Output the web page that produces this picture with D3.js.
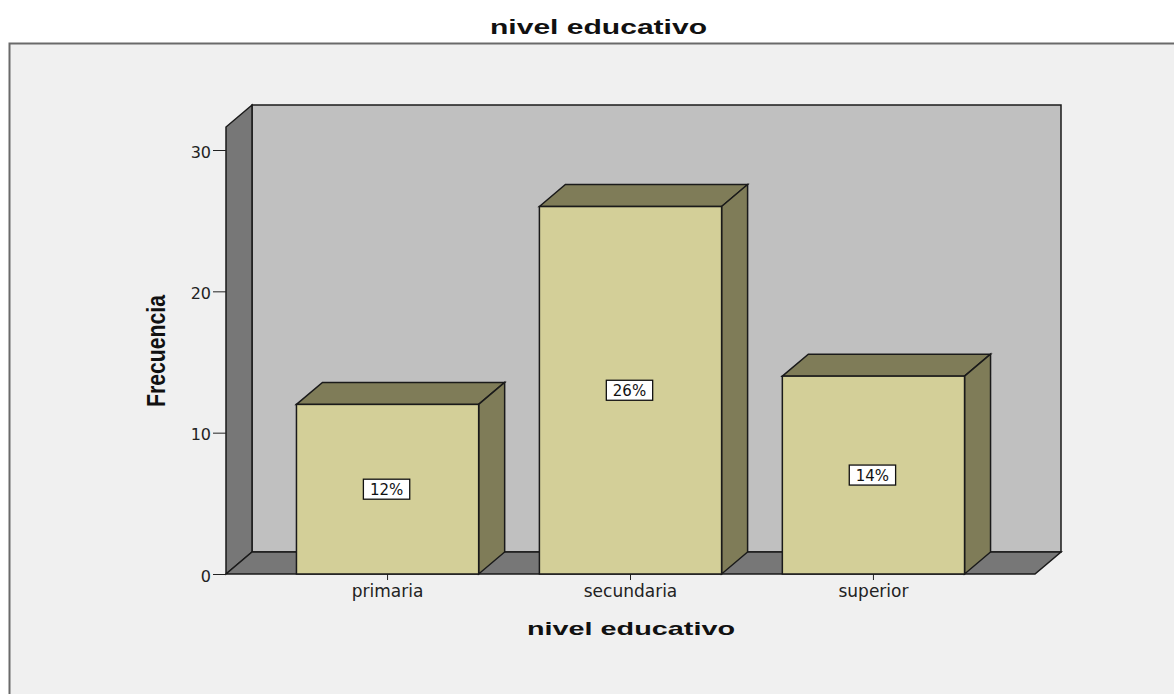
<!DOCTYPE html>
<html><head><meta charset="utf-8">
<script src="https://cdn.jsdelivr.net/npm/d3@7"></script>
<style>body{margin:0;background:#fff}svg{display:block}</style>
</head><body>
<svg id="c" width="1174" height="694"></svg>
<script>
const categories = ["primaria", "secundaria", "superior"];
const frequencies = [12, 26, 14];
const percentLabels = ["12%", "26%", "14%"];
const yTicks = [0, 10, 20, 30];
const chartTitle = "nivel educativo";
const xTitle = "nivel educativo";
const yTitle = "Frecuencia";

const svg = d3.select("#c");
const W = 1174, H = 694;
const dx = 26, dy = -22;
const x0 = 226, x1 = 1035, yBase = 574;
const FONT = "DejaVu Sans, Verdana, sans-serif";
const BOLD = "Liberation Sans, Arial, sans-serif";

// outer frame
svg.append("rect").attr("x", 9.5).attr("y", 43.5).attr("width", W).attr("height", H)
  .attr("fill", "#f0f0f0").attr("stroke", "#6a6a6a").attr("stroke-width", 2);

svg.append("text").attr("x", 490).attr("y", 34)
  .attr("font-family", BOLD).attr("font-weight", "bold")
  .attr("font-size", 20).attr("textLength", 217).attr("lengthAdjust", "spacingAndGlyphs")
  .attr("fill", "#111").text(chartTitle);

const y = d3.scaleLinear().domain([0, 30]).range([yBase, yBase - 424]);
const x = d3.scaleBand().domain(categories).range([x0, x1]).paddingInner(0.25).paddingOuter(0.29);

const yTop = 127; // front top of side wall
const stroke = "#1a1a1a";
// back wall
svg.append("rect").attr("x", x0 + dx).attr("y", yTop + dy).attr("width", x1 - x0)
  .attr("height", yBase - yTop).attr("fill", "#c0c0c0").attr("stroke", stroke).attr("stroke-width", 1.5);
// left side wall
svg.append("path").attr("d", `M${x0},${yBase}L${x0},${yTop}L${x0+dx},${yTop+dy}L${x0+dx},${yBase+dy}Z`)
  .attr("fill", "#777").attr("stroke", stroke).attr("stroke-width", 1.5);
// floor
svg.append("path").attr("d", `M${x0},${yBase}L${x0+dx},${yBase+dy}L${x1+dx},${yBase+dy}L${x1},${yBase}Z`)
  .attr("fill", "#777").attr("stroke", stroke).attr("stroke-width", 1.5);

// y axis
const yAxis = d3.axisLeft(y).tickValues(yTicks).tickSize(13).tickPadding(2);
const gy = svg.append("g").attr("transform", `translate(${x0},0)`).call(yAxis);
gy.select(".domain").remove();
gy.selectAll("line").attr("stroke", "#222");
gy.selectAll("text").attr("font-family", FONT).attr("font-size", 16).attr("fill", "#222").attr("dy", "0.45em");

// x axis
const xAxis = d3.axisBottom(x).tickSize(6).tickPadding(5);
const gx = svg.append("g").attr("transform", `translate(0,${yBase})`).call(xAxis);
gx.select(".domain").remove();
gx.selectAll("line").attr("stroke", "#222");
gx.selectAll("text").attr("font-family", FONT).attr("font-size", 17).attr("fill", "#222");

// bars
const bars = svg.append("g").selectAll("g").data(categories).join("g");
bars.each(function(c, i) {
  const g = d3.select(this);
  const bx = x(c), bw = x.bandwidth(), by = y(frequencies[i]);
  g.append("path").attr("d", `M${bx},${by}L${bx+dx},${by+dy}L${bx+bw+dx},${by+dy}L${bx+bw},${by}Z`)
    .attr("fill", "#7f7c58").attr("stroke", stroke).attr("stroke-width", 1.5);
  g.append("path").attr("d", `M${bx+bw},${by}L${bx+bw+dx},${by+dy}L${bx+bw+dx},${yBase+dy}L${bx+bw},${yBase}Z`)
    .attr("fill", "#7f7c58").attr("stroke", stroke).attr("stroke-width", 1.5);
  g.append("rect").attr("x", bx).attr("y", by).attr("width", bw).attr("height", yBase - by)
    .attr("fill", "#d3cf98").attr("stroke", stroke).attr("stroke-width", 1.5);
  const cy = (by + yBase) / 2;
  const cx = bx + bw / 2 - 1;
  const box = g.append("rect").attr("fill", "#fff").attr("stroke", "#111").attr("stroke-width", 1.3);
  const t = g.append("text").attr("x", cx).attr("y", cy + 5.5).attr("text-anchor", "middle")
    .attr("font-family", FONT).attr("font-size", 15).attr("fill", "#111")
    .text(percentLabels[i]);
  const w = t.node().getComputedTextLength() + 13;
  box.attr("x", cx - w / 2).attr("y", cy - 10).attr("width", w).attr("height", 20);
});

// axis titles
svg.append("text").attr("x", 527).attr("y", 635)
  .attr("font-family", BOLD).attr("font-weight", "bold")
  .attr("font-size", 19).attr("textLength", 208).attr("lengthAdjust", "spacingAndGlyphs")
  .attr("fill", "#111").text(xTitle);
svg.append("text").attr("transform", "translate(165,351) rotate(-90)").attr("text-anchor", "middle")
  .attr("font-family", "Liberation Sans Narrow, Liberation Sans, sans-serif").attr("font-weight", "bold")
  .attr("font-size", 25).attr("textLength", 112).attr("lengthAdjust", "spacingAndGlyphs")
  .attr("fill", "#111").text(yTitle);
</script>
</body></html>
